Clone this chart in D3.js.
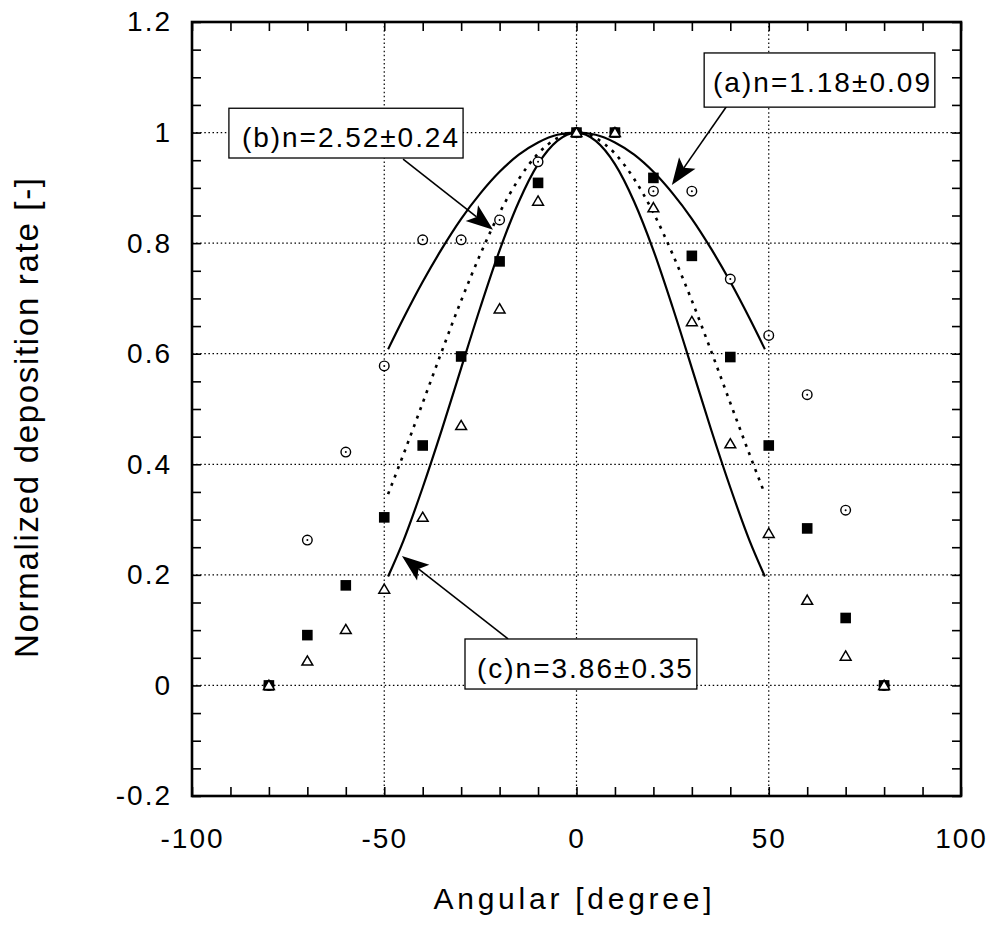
<!DOCTYPE html>
<html><head><meta charset="utf-8">
<script src="https://cdn.jsdelivr.net/npm/d3@7"></script>
<style>
body{margin:0;background:#fff}
svg{display:block}
text{font-family:"Liberation Sans",Arial,Helvetica,sans-serif;fill:#000}
</style>
</head><body>
<svg id="chart" width="996" height="928"></svg>
<script>
// ---------- data ----------
const angles       = [-80,-70,-60,-50,-40,-30,-20,-10,0,10,20,30,40,50,60,70,80];
const circleVals   = [0,0.263,0.422,0.578,0.806,0.806,0.842,0.947,1,1,0.894,0.894,0.735,0.633,0.526,0.317,0];
const squareVals   = [0,0.091,0.181,0.304,0.434,0.595,0.767,0.909,1,1,0.918,0.777,0.594,0.434,0.284,0.122,0];
const triangleVals = [0,0.044,0.101,0.174,0.304,0.470,0.681,0.876,1,1,0.864,0.658,0.437,0.275,0.154,0.053,0];

const fitAngles = [-49,-45,-40,-35,-30,-25,-20,-15,-10,-5,0,5,10,15,20,25,30,35,40,45,49];
const fitA = [0.608,0.664,0.730,0.790,0.844,0.890,0.929,0.960,0.982,0.996,1,0.996,0.982,0.960,0.929,0.890,0.844,0.790,0.730,0.664,0.608];
const fitB = [0.346,0.418,0.511,0.605,0.696,0.780,0.855,0.916,0.962,0.990,1,0.990,0.962,0.916,0.855,0.780,0.696,0.605,0.511,0.418,0.346];
const fitC = [0.197,0.262,0.358,0.463,0.574,0.684,0.787,0.875,0.943,0.985,1,0.985,0.943,0.875,0.787,0.684,0.574,0.463,0.358,0.262,0.197];

const xTickLabels = [-100,-50,0,50,100];
const yTickLabels = [-0.2,0,0.2,0.4,0.6,0.8,1,1.2];
const xGridVals = [-50,0,50];
const yGridVals = [0,0.2,0.4,0.6,0.8,1];
const annotationTexts = ["(a)n=1.18±0.09","(b)n=2.52±0.24","(c)n=3.86±0.35"];
const xTitle = "Angular [degree]";
const yTitle = "Normalized deposition rate [-]";

// ---------- layout ----------
const L = 192, R = 961, T = 22, B = 796;
const svg = d3.select("#chart");
const x = d3.scaleLinear().domain([-100,100]).range([L,R]);
const y = d3.scaleLinear().domain([-0.2,1.2]).range([B,T]);

// annotation layout in data units: box [x0,x1,yTop,yBottom], text start/baseline, arrow start/tip, text width (px)
const annLayout = [
  {box:[33.2,93.2,1.144,1.046], tx:35.5, ty:1.073, from:[39.1,1.048], to:[24.8,0.905], tw:217},
  {box:[-90.4,-29.5,1.044,0.954], tx:-87.0, ty:0.973, from:[-45.1,0.952], to:[-21.7,0.824], tw:216},
  {box:[-29.0,31.3,0.084,-0.0065], tx:-25.9, ty:0.0134, from:[-17.8,0.084], to:[-45.4,0.234], tw:215}
];

// ---------- grid ----------
const grid = svg.append("g").attr("stroke","#000").attr("stroke-width",1.2).attr("stroke-dasharray","1.5,2.6");
grid.selectAll(".gx").data(xGridVals).join("line")
  .attr("x1",d=>x(d)).attr("x2",d=>x(d)).attr("y1",T).attr("y2",B);
grid.selectAll(".gy").data(yGridVals).join("line")
  .attr("x1",L).attr("x2",R).attr("y1",d=>y(d)).attr("y2",d=>y(d));

// ---------- ticks on all four sides (inward) ----------
const xMinor = d3.range(-100,101,10);
const yMinor = d3.range(-4,25).map(i=>+(i*0.05).toFixed(2));
function styleAxis(g){
  g.select(".domain").remove();
  g.selectAll(".tick line").attr("stroke","#000").attr("stroke-width",1.6);
}
svg.append("g").attr("transform",`translate(0,${B})`)
  .call(d3.axisBottom(x).tickValues(xMinor).tickSize(-9).tickFormat("")).call(styleAxis);
svg.append("g").attr("transform",`translate(0,${T})`)
  .call(d3.axisTop(x).tickValues(xMinor).tickSize(-9).tickFormat("")).call(styleAxis);
svg.append("g").attr("transform",`translate(${L},0)`)
  .call(d3.axisLeft(y).tickValues(yMinor).tickSize(-9).tickFormat("")).call(styleAxis);
svg.append("g").attr("transform",`translate(${R},0)`)
  .call(d3.axisRight(y).tickValues(yMinor).tickSize(-9).tickFormat("")).call(styleAxis);

// tick labels
const xl = svg.append("g").attr("transform",`translate(0,${B})`)
  .call(d3.axisBottom(x).tickValues(xTickLabels).tickSize(0).tickPadding(32).tickFormat(d=>String(d)));
xl.select(".domain").remove();
xl.selectAll("text").attr("font-size",28).attr("font-family",'"Liberation Sans",Arial,sans-serif').attr("letter-spacing","2px").attr("fill","#000");
const yl = svg.append("g").attr("transform",`translate(${L},0)`)
  .call(d3.axisLeft(y).tickValues(yTickLabels).tickSize(0).tickPadding(20).tickFormat(d=>String(d)));
yl.select(".domain").remove();
yl.selectAll("text").attr("font-size",28).attr("font-family",'"Liberation Sans",Arial,sans-serif').attr("letter-spacing","2px").attr("fill","#000");

// ---------- fitted curves ----------
const line = d3.line().x(d=>x(d[0])).y(d=>y(d[1])).curve(d3.curveMonotoneX);
const fits = [
  {vals:fitA, dash:null, w:2.2},
  {vals:fitB, dash:"3,6", w:2.6},
  {vals:fitC, dash:null, w:2.2}
];
svg.append("g").selectAll("path").data(fits).join("path")
  .attr("d",f=>line(fitAngles.map((a,i)=>[a,f.vals[i]])))
  .attr("fill","none").attr("stroke","#000")
  .attr("stroke-width",f=>f.w).attr("stroke-dasharray",f=>f.dash);

// ---------- markers ----------
const circ = svg.append("g");
circ.selectAll("circle.o").data(angles).join("circle").attr("class","o")
  .attr("cx",(d)=>x(d)).attr("cy",(d,i)=>y(circleVals[i])).attr("r",4.8)
  .attr("fill","#fff").attr("stroke","#000").attr("stroke-width",1.4);
circ.selectAll("circle.c").data(angles).join("circle").attr("class","c")
  .attr("cx",(d)=>x(d)).attr("cy",(d,i)=>y(circleVals[i])).attr("r",1).attr("fill","#000");

svg.append("g").selectAll("rect").data(angles).join("rect")
  .attr("x",d=>x(d)-5.3).attr("y",(d,i)=>y(squareVals[i])-5.3)
  .attr("width",10.6).attr("height",10.6).attr("fill","#000");

const triPath = "M0,-5.2L5.4,4L-5.4,4Z";
svg.append("g").selectAll("path").data(angles).join("path")
  .attr("d",triPath)
  .attr("transform",(d,i)=>`translate(${x(d)},${y(triangleVals[i])})`)
  .attr("fill","#fff").attr("stroke","#000").attr("stroke-width",1.5).attr("stroke-linejoin","miter");

// ---------- annotations ----------
const ann = svg.append("g");
annLayout.forEach((a,i)=>{
  const x0=x(a.box[0]), x1=x(a.box[1]), y0=y(a.box[2]), y1=y(a.box[3]);
  const sx=x(a.from[0]), sy=y(a.from[1]), tx=x(a.to[0]), ty=y(a.to[1]);
  const dx=tx-sx, dy=ty-sy, len=Math.hypot(dx,dy), ux=dx/len, uy=dy/len, nx=-uy, ny=ux;
  const HL=27, HW=10, NT=21;
  ann.append("line").attr("x1",sx).attr("y1",sy).attr("x2",tx-ux*NT).attr("y2",ty-uy*NT)
    .attr("stroke","#000").attr("stroke-width",1.6);
  ann.append("path").attr("d",
    `M${tx},${ty}L${tx-ux*HL+nx*HW},${ty-uy*HL+ny*HW}L${tx-ux*NT},${ty-uy*NT}L${tx-ux*HL-nx*HW},${ty-uy*HL-ny*HW}Z`)
    .attr("fill","#000");
  ann.append("rect").attr("x",x0).attr("y",y0).attr("width",x1-x0).attr("height",y1-y0)
    .attr("fill","#fff").attr("stroke","#000").attr("stroke-width",1.3);
  ann.append("text").attr("x",x(a.tx)).attr("y",y(a.ty)).attr("font-size",28)
    .attr("textLength",a.tw).attr("lengthAdjust","spacing").text(annotationTexts[i]);
});

// ---------- frame ----------
svg.append("rect").attr("x",L).attr("y",T).attr("width",R-L).attr("height",B-T)
  .attr("fill","none").attr("stroke","#000").attr("stroke-width",2.6);

// ---------- axis titles ----------
svg.append("text").attr("x",(L+R)/2-4).attr("y",909).attr("text-anchor","middle")
  .attr("font-size",30).attr("textLength",278).attr("lengthAdjust","spacing").text(xTitle);
svg.append("text").attr("transform","translate(38,418) rotate(-90)").attr("text-anchor","middle")
  .attr("font-size",33).attr("textLength",480).attr("lengthAdjust","spacing").text(yTitle);
</script>
</body></html>
